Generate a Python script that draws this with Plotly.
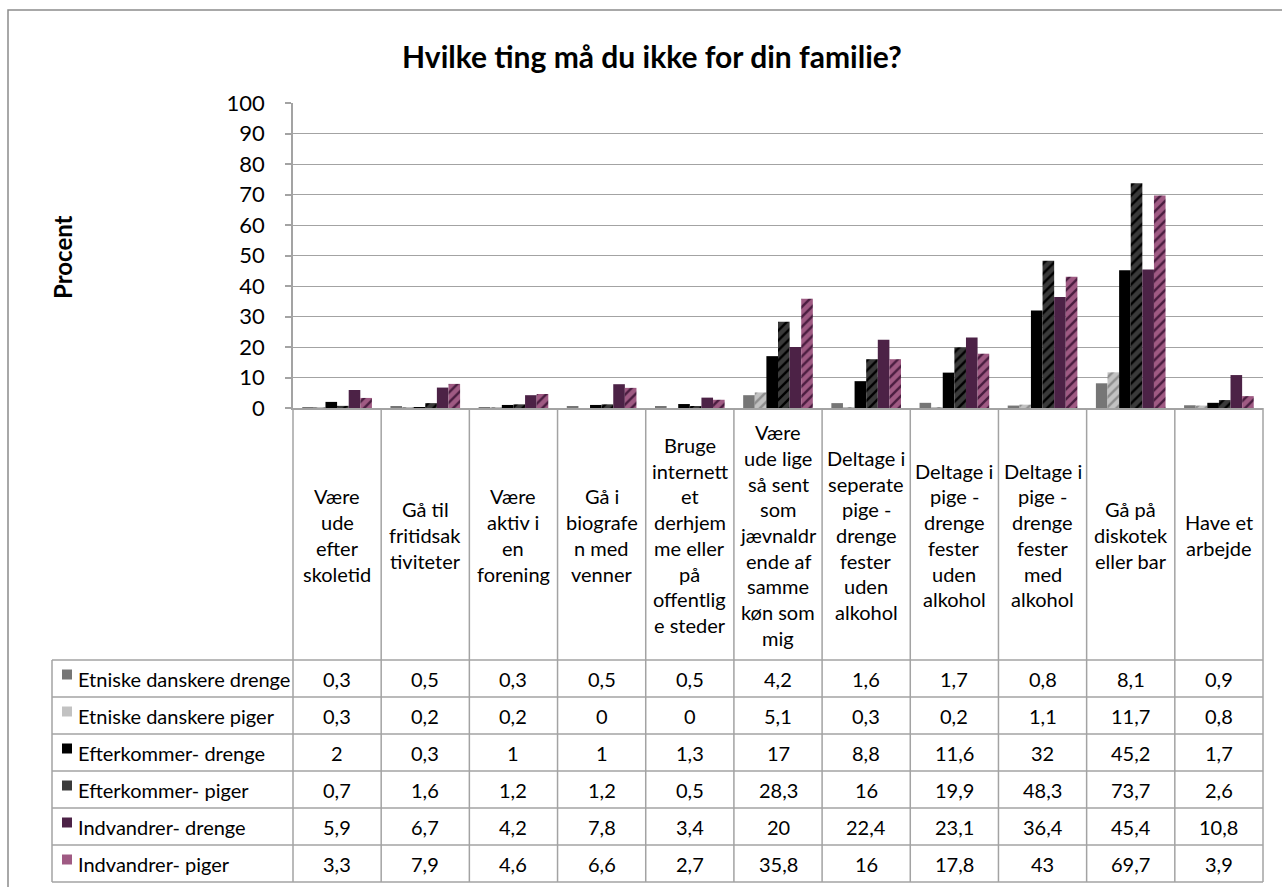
import plotly.graph_objects as go

title = "Hvilke ting må du ikke for din familie?"
y_title = "Procent"

categories = [
    "Være\nude\nefter\nskoletid",
    "Gå til\nfritidsak\ntiviteter",
    "Være\naktiv i\nen\nforening",
    "Gå i\nbiografe\nn med\nvenner",
    "Bruge\ninternett\net\nderhjem\nme eller\npå\noffentlig\ne steder",
    "Være\nude lige\nså sent\nsom\njævnaldr\nende af\nsamme\nkøn som\nmig",
    "Deltage i\nseperate\npige -\ndrenge\nfester\nuden\nalkohol",
    "Deltage i\npige -\ndrenge\nfester\nuden\nalkohol",
    "Deltage i\npige -\ndrenge\nfester\nmed\nalkohol",
    "Gå på\ndiskotek\neller bar",
    "Have et\narbejde",
]

series_names = [
    "Etniske danskere drenge",
    "Etniske danskere piger",
    "Efterkommer- drenge",
    "Efterkommer- piger",
    "Indvandrer- drenge",
    "Indvandrer- piger",
]

etniske_drenge = [0.3, 0.5, 0.3, 0.5, 0.5, 4.2, 1.6, 1.7, 0.8, 8.1, 0.9]
etniske_piger = [0.3, 0.2, 0.2, 0, 0, 5.1, 0.3, 0.2, 1.1, 11.7, 0.8]
efterkommer_drenge = [2, 0.3, 1, 1, 1.3, 17, 8.8, 11.6, 32, 45.2, 1.7]
efterkommer_piger = [0.7, 1.6, 1.2, 1.2, 0.5, 28.3, 16, 19.9, 48.3, 73.7, 2.6]
indvandrer_drenge = [5.9, 6.7, 4.2, 7.8, 3.4, 20, 22.4, 23.1, 36.4, 45.4, 10.8]
indvandrer_piger = [3.3, 7.9, 4.6, 6.6, 2.7, 35.8, 16, 17.8, 43, 69.7, 3.9]

series_values = [etniske_drenge, etniske_piger, efterkommer_drenge,
                 efterkommer_piger, indvandrer_drenge, indvandrer_piger]

y_ticks = list(range(0, 101, 10))

# styles
bg_colors = ["#767676", "#c2c2c2", "#000000", "#3a3a3a", "#4c2246", "#9f5a83"]
fg_colors = [None, "#8e8e8e", None, "#000000", None, "#4a1d40"]

FONT = "Lato"
GRID = "#a3a3a3"

W, H = 1282, 887
L, R, T, B = 293, 1263, 103, 408


def px(x):
    return (x - L) / (R - L)


def py(y):
    return (B - y) / (B - T)


def fmt(v):
    if float(v).is_integer():
        return str(int(v))
    return str(v).replace(".", ",")


fig = go.Figure()
labels_x = [c.replace("\n", " ") for c in categories]
for name, vals, bg, fg in zip(series_names, series_values, bg_colors, fg_colors):
    marker = dict(color=bg, line=dict(width=0))
    if fg:
        marker["pattern"] = dict(shape="/", fgcolor=fg, bgcolor=bg, size=7,
                                 solidity=0.35, fillmode="replace")
    fig.add_bar(x=labels_x, y=vals, name=name, marker=marker, showlegend=False)

n = len(categories)
shapes = []
annotations = []
line = dict(color=GRID, width=1.5)

# outer frame
shapes.append(dict(type="path", xref="paper", yref="paper",
                   path=f"M {px(8)} {py(H+5)} L {px(8)} {py(10)} L {px(W+5)} {py(10)}",
                   line=dict(color="#8c8c8c", width=1.5)))

# table geometry
row_top = 660
row_h = 37
left_x = 52
rows = len(series_names)
bottom = row_top + row_h * rows

for k in range(rows + 1):
    yk = row_top + row_h * k
    shapes.append(dict(type="line", xref="paper", yref="paper",
                       x0=px(left_x), x1=1, y0=py(yk), y1=py(yk), line=line))
shapes.append(dict(type="line", xref="paper", yref="paper",
                   x0=px(left_x), x1=px(left_x), y0=py(row_top), y1=py(bottom), line=line))
for i in range(n + 1):
    xi = i / n
    shapes.append(dict(type="line", xref="paper", yref="paper",
                       x0=xi, x1=xi, y0=0, y1=py(bottom), line=line))

# category labels
line_h = 25.7
center_y = 535
for i, cat in enumerate(categories):
    parts = cat.split("\n")
    m = len(parts)
    for j, p in enumerate(parts):
        yy = center_y + (j - (m - 1) / 2) * line_h
        annotations.append(dict(x=(i + 0.5) / n, y=py(yy), xref="paper", yref="paper",
                                text=p, showarrow=False, xanchor="center", yanchor="middle",
                                font=dict(family=FONT, size=20, color="#000")))

# legend cells and values
for k, (name, vals, bg) in enumerate(zip(series_names, series_values, bg_colors)):
    yc = row_top + row_h * k + row_h / 2
    shapes.append(dict(type="rect", xref="paper", yref="paper",
                       x0=px(62), x1=px(72), y0=py(yc - 9), y1=py(yc + 1),
                       fillcolor=bg, line=dict(width=0)))
    annotations.append(dict(x=px(76), y=py(yc), xref="paper", yref="paper", text=name,
                            showarrow=False, xanchor="left", yanchor="middle",
                            font=dict(family=FONT, size=20, color="#000")))
    for i, v in enumerate(vals):
        annotations.append(dict(x=(i + 0.5) / n, y=py(yc), xref="paper", yref="paper",
                                text=fmt(v), showarrow=False, xanchor="center", yanchor="middle",
                                font=dict(family=FONT, size=20, color="#000")))

# title and axis title
annotations.append(dict(x=px(652), y=py(56), xref="paper", yref="paper", text=f"<b>{title}</b>",
                        showarrow=False, xanchor="center", yanchor="middle",
                        font=dict(family=FONT, size=30, color="#000")))
annotations.append(dict(x=px(62), y=py(257), xref="paper", yref="paper", text=f"<b>{y_title}</b>",
                        showarrow=False, xanchor="center", yanchor="middle", textangle=-90,
                        font=dict(family=FONT, size=24, color="#000")))

fig.update_layout(
    width=W, height=H,
    margin=dict(l=L, r=W - R, t=T, b=H - B, pad=0),
    paper_bgcolor="white", plot_bgcolor="white",
    barmode="group", bargap=0.21, bargroupgap=0,
    shapes=shapes, annotations=annotations,
    font=dict(family=FONT, color="#000"),
)
fig.update_xaxes(showticklabels=False, ticks="", showline=True, linecolor=GRID, linewidth=1.5,
                 showgrid=False, zeroline=False)
fig.update_yaxes(range=[0, 100], tickvals=y_ticks, showgrid=True, gridcolor=GRID, gridwidth=1.3,
                 showline=True, linecolor=GRID, linewidth=1.5, ticks="outside", ticklen=6,
                 tickcolor=GRID, tickwidth=1.5, ticklabelstandoff=16, zeroline=False,
                 tickfont=dict(family=FONT, size=22, color="#000"))

fig.write_html("out.html", config={"displayModeBar": False},
               post_script="document.body.style.margin='0';document.body.style.overflow='hidden';")
